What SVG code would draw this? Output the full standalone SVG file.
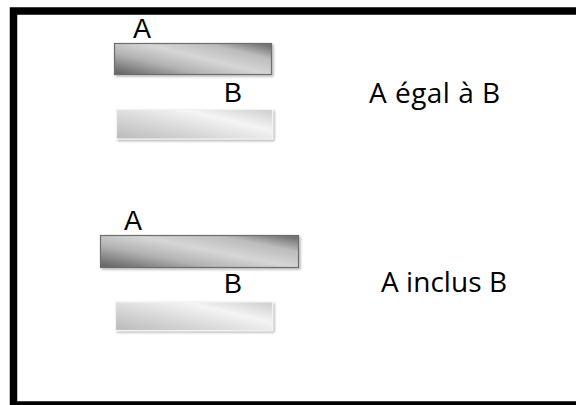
<svg xmlns="http://www.w3.org/2000/svg" width="576" height="405" viewBox="0 0 576 405">
<defs>
<linearGradient id="gA" x1="0" y1="0.9" x2="1" y2="0.1">
<stop offset="0" stop-color="#6a6a6a"/>
<stop offset="0.3" stop-color="#b4b4b4"/>
<stop offset="0.55" stop-color="#d6d6d6"/>
<stop offset="0.8" stop-color="#bcbcbc"/>
<stop offset="1" stop-color="#747474"/>
</linearGradient>
<linearGradient id="gB" x1="0" y1="0.9" x2="1" y2="0.1">
<stop offset="0" stop-color="#bdbdbd"/>
<stop offset="0.35" stop-color="#d8d8d8"/>
<stop offset="0.7" stop-color="#f4f4f4"/>
<stop offset="1" stop-color="#d2d2d2"/>
</linearGradient>
<filter id="sh" x="-10%" y="-30%" width="120%" height="160%">
<feDropShadow dx="1.5" dy="1.5" stdDeviation="1" flood-color="#000" flood-opacity="0.3"/>
</filter>
</defs>
<style>
.lbl{font-family:"Liberation Sans",Arial,sans-serif;font-size:27px;fill:#000}
.cap{font-family:"Open Sans","Noto Sans",sans-serif;font-size:28px;fill:#000}
.ba{fill:url(#gA);stroke:#6e6e6e;stroke-width:1.2;filter:url(#sh)}
.bb{fill:url(#gB);stroke:#f2f2f2;stroke-width:1.2;filter:url(#sh)}
</style>
<rect x="0" y="0" width="576" height="405" fill="#fff"/>
<rect x="13.5" y="11" width="600" height="394" fill="none" stroke="#000" stroke-width="7.5"/>
<g id="connectors"/>
<g id="barA1"><rect class="ba" x="114.5" y="43.5" width="157" height="31"/></g>
<g id="barB1"><rect class="bb" x="116.5" y="109.5" width="156" height="29.5"/></g>
<g id="barA2"><rect class="ba" x="100.5" y="235.5" width="198" height="32"/></g>
<g id="barB2"><rect class="bb" x="115.5" y="302" width="157" height="28.5"/></g>
<g id="labels">
<text class="lbl" x="133" y="38">A</text>
<text class="lbl" x="224" y="102">B</text>
<text class="lbl" x="124" y="230">A</text>
<text class="lbl" x="224" y="293">B</text>
</g>
<g id="captions">
<text class="cap" x="369" y="103" textLength="131">A égal à B</text>
<text class="cap" x="381" y="292" textLength="126">A inclus B</text>
</g>
</svg>
